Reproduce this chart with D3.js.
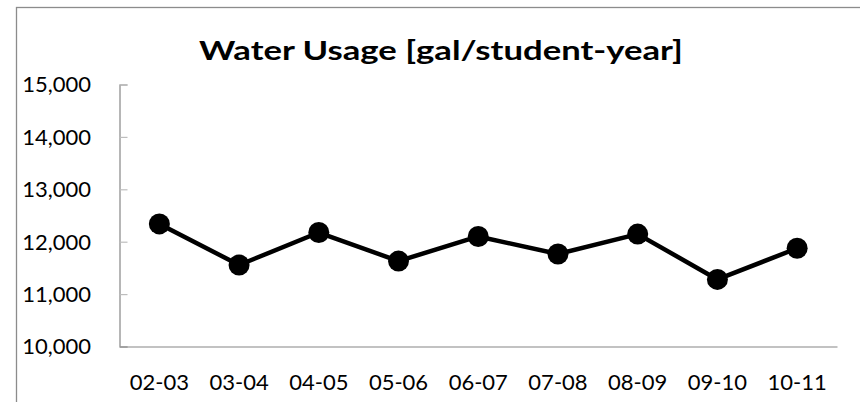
<!DOCTYPE html>
<html>
<head>
<meta charset="utf-8">
<script src="https://cdn.jsdelivr.net/npm/d3@7"></script>
<style>
html, body { margin: 0; padding: 0; background: #fff; }
svg { display: block; }
</style>
</head>
<body>
<svg id="chart" width="860" height="402"></svg>
<script>
const title = "Water Usage [gal/student-year]";
const categories = ["02-03", "03-04", "04-05", "05-06", "06-07", "07-08", "08-09", "09-10", "10-11"];
const values = [12340, 11555, 12175, 11630, 12100, 11765, 12145, 11280, 11875];
const yTicks = [10000, 11000, 12000, 13000, 14000, 15000];
const yDomain = [10000, 15000];

const svg = d3.select("#chart");
const plot = { left: 119.5, right: 837, top: 84.5, bottom: 346.5 };
const font = "Lato, 'Open Sans', sans-serif";

// outer chart frame (extends beyond the viewport on right and bottom)
svg.append("rect")
  .attr("x", 16.5).attr("y", 7.5)
  .attr("width", 900).attr("height", 500)
  .attr("fill", "#fff").attr("stroke", "#8c8c8c").attr("stroke-width", 1.3);

const x = d3.scaleBand().domain(categories).range([plot.left, plot.right]).padding(0);
const y = d3.scaleLinear().domain(yDomain).range([plot.bottom, plot.top]);

// title
svg.append("text")
  .attr("x", 441).attr("y", 59.5)
  .attr("text-anchor", "middle")
  .attr("font-family", font).attr("font-weight", "bold")
  .attr("font-size", 27.5).attr("fill", "#000")
  .attr("textLength", 484).attr("lengthAdjust", "spacingAndGlyphs")
  .text(title);

// y axis
const yAxis = d3.axisRight(y).tickValues(yTicks).tickSize(8).tickFormat("");
const gy = svg.append("g").attr("transform", `translate(${plot.left},0)`).call(yAxis);
gy.select(".domain").attr("stroke", "#868686").attr("stroke-width", 1.2);
gy.selectAll(".tick line").attr("stroke", "#bdbdbd").attr("stroke-width", 1.2);

// y labels
svg.append("g").selectAll("text").data(yTicks).join("text")
  .attr("x", 91).attr("y", d => y(d))
  .attr("dy", "0.36em")
  .attr("text-anchor", "end")
  .attr("font-family", font).attr("font-size", 22).attr("fill", "#000")
  .text(d3.format(","));

// x axis
const xAxis = d3.axisBottom(x).tickSize(0).tickFormat("");
const gx = svg.append("g").attr("transform", `translate(0,${plot.bottom})`).call(xAxis);
gx.select(".domain").attr("stroke", "#868686").attr("stroke-width", 1.2);

svg.append("g").selectAll("text").data(categories).join("text")
  .attr("x", d => x(d) + x.bandwidth() / 2).attr("y", 390)
  .attr("text-anchor", "middle")
  .attr("font-family", font).attr("font-size", 22).attr("fill", "#000")
  .text(d => d);

// line
const line = d3.line()
  .x((d, i) => x(categories[i]) + x.bandwidth() / 2)
  .y(d => y(d));
svg.append("path").datum(values)
  .attr("d", line)
  .attr("fill", "none").attr("stroke", "#000").attr("stroke-width", 4.5)
  .attr("stroke-linejoin", "round");

svg.append("g").selectAll("circle").data(values).join("circle")
  .attr("cx", (d, i) => x(categories[i]) + x.bandwidth() / 2)
  .attr("cy", d => y(d))
  .attr("r", 10.5)
  .attr("fill", "#000");
</script>
</body>
</html>
